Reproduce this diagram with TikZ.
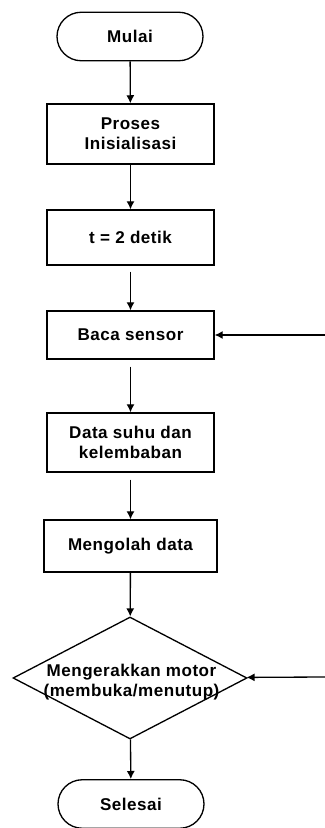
\documentclass[tikz,border=0pt]{standalone}
\usepackage{fontspec}
\setmainfont{Liberation Sans}[LetterSpace=3]
\usetikzlibrary{shapes.geometric,shapes.misc,arrows.meta}

\begin{document}
\begin{tikzpicture}[line width=0.75pt, >={Latex[length=4.6pt,width=4.6pt]}]
    \tikzstyle{term}=[rounded rectangle, draw, minimum width=2.92cm, minimum height=0.97cm, inner sep=0pt]
    \tikzstyle{proc}=[rectangle, draw, minimum width=3.34cm, inner sep=0pt, align=center]
    \tikzstyle{dia}=[diamond, draw, minimum width=4.68cm, minimum height=2.44cm, inner sep=0pt]
    \tikzstyle{every node}=[font=\fontsize{9.7}{11.3}\selectfont\bfseries]
    \useasboundingbox (0,0) rectangle (6.5,16.56);
    \node[term] (mulai) at (2.6,15.83) {Mulai};
    \node[proc, minimum height=1.2cm] (init) at (2.61,13.88) {Proses\\Inisialisasi};
    \node[proc, minimum height=1.1cm] (tunda) at (2.61,11.81) {t = 2 detik};
    \node[proc, minimum height=0.96cm] (baca) at (2.61,9.86) {Baca sensor};
    \node[proc, minimum height=1.18cm] (data) at (2.61,7.71) {Data suhu dan\\kelembaban};
    \node[proc, minimum width=3.46cm, minimum height=1.04cm] (olah) at (2.61,5.64) {Mengolah data};
    \node[dia] (motor) at (2.6,3.0) {};
    \node[align=center] (motortxt) at (2.63,2.92) {Mengerakkan motor\\(membuka/menutup)};
    \node[term] (selesai) at (2.62,0.48) {Selesai};
    \coordinate (ke1) at (6.5,9.86);
    \coordinate (ke2) at (6.5,3.02);
    \draw[->] (mulai)--(init);
    \draw[->] (init)--(tunda);
    \draw[->, shorten <=0.12cm] (tunda)--(baca);
    \draw[->, shorten <=0.14cm] (baca)--(data);
    \draw[->, shorten <=0.14cm] (data)--(olah);
    \draw[->] (olah)--(motor);
    \draw[->] (motor)--(selesai);
    \draw[->] (ke1)--(baca);
    \draw[->] (ke2)--(motor);
\end{tikzpicture}
\end{document}
